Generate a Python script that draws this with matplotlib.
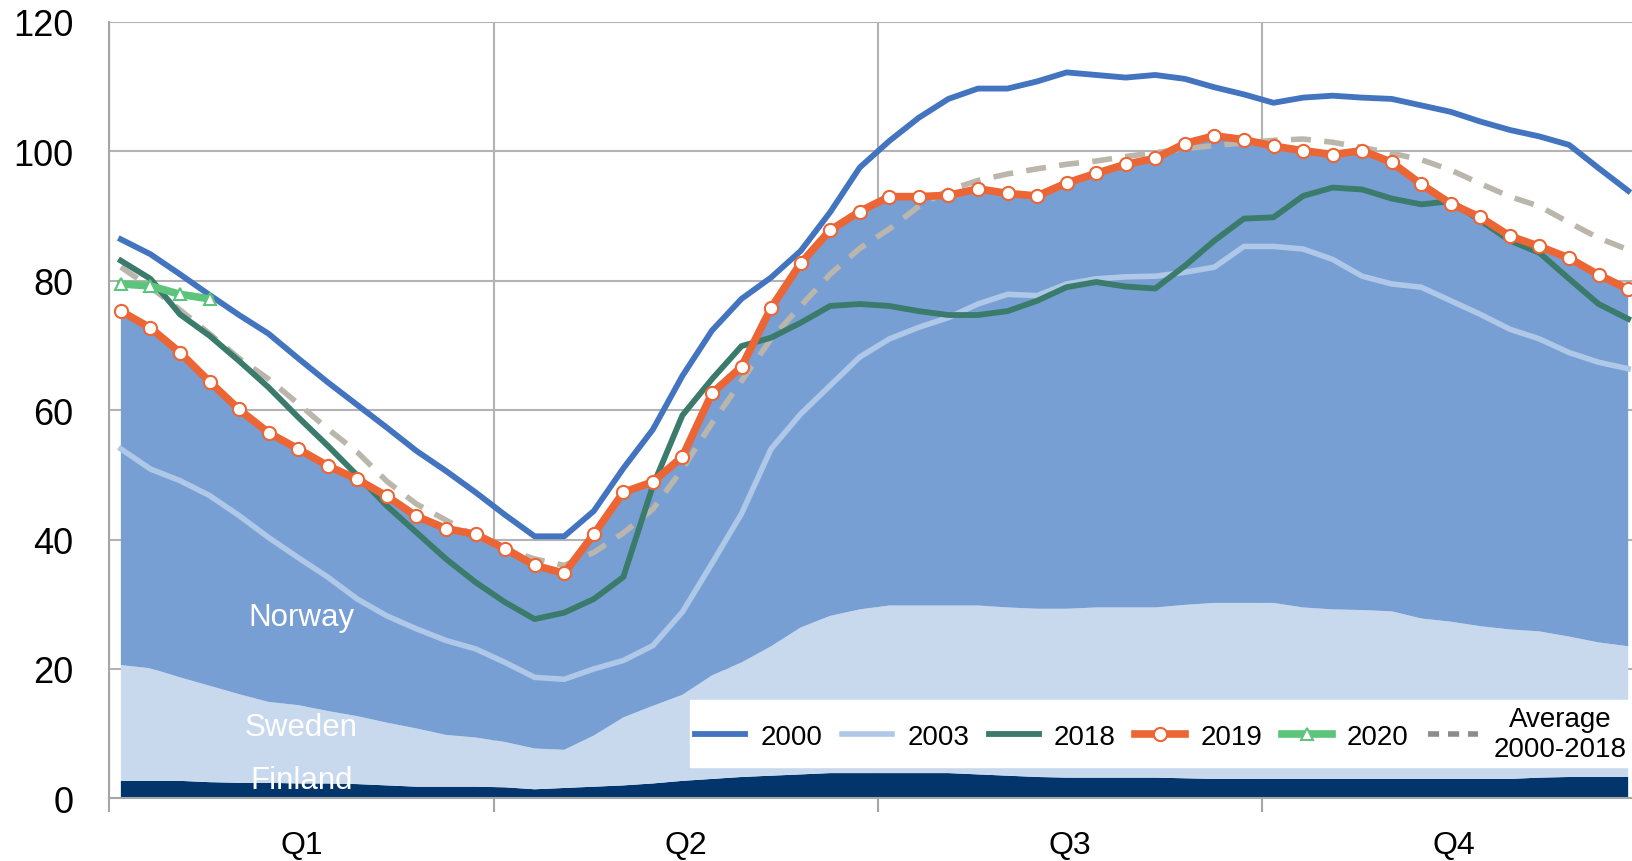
import numpy as np
import matplotlib
matplotlib.use("Agg")
import matplotlib.pyplot as plt
from matplotlib.lines import Line2D

plt.rcParams['font.family'] = ['Liberation Sans', 'DejaVu Sans']

weeks = np.arange(52)
quarters = ['Q1', 'Q2', 'Q3', 'Q4']

# stacked reservoir content 2019 by country
finland = [2.7, 2.7, 2.7, 2.5, 2.4, 2.4, 2.3, 2.3, 2.2, 2.0, 1.8, 1.8, 1.8, 1.7, 1.4, 1.6,
           1.8, 2.0, 2.3, 2.7, 3.0, 3.3, 3.5, 3.7, 3.9, 3.9, 3.9, 3.9, 3.9, 3.7, 3.5, 3.3,
           3.2, 3.2, 3.2, 3.2, 3.1, 3.0, 3.0, 3.0, 3.0, 3.0, 3.0, 3.0, 3.0, 3.0, 3.0, 3.0,
           3.2, 3.3, 3.3, 3.3]
sweden = [17.9, 17.4, 16.0, 14.9, 13.7, 12.5, 12.1, 11.2, 10.5, 9.7, 9.0, 8.0, 7.6, 7.0, 6.3, 5.9,
          7.9, 10.5, 12.0, 13.3, 16.0, 17.7, 20.0, 22.7, 24.3, 25.3, 25.9, 25.9, 25.9, 26.1, 26.0, 26.0,
          26.1, 26.3, 26.3, 26.3, 26.8, 27.2, 27.2, 27.2, 26.5, 26.2, 26.1, 25.9, 24.8, 24.3, 23.6, 23.1,
          22.6, 21.7, 20.8, 20.2]
norway = [54.7, 52.6, 50.2, 47.0, 44.0, 41.6, 39.6, 37.9, 36.6, 35.0, 32.8, 31.9, 31.4, 29.9, 28.3, 27.3,
          31.1, 34.8, 34.6, 36.8, 43.6, 45.7, 52.3, 56.3, 59.6, 61.5, 63.2, 63.2, 63.4, 64.4, 64.0, 63.8,
          65.8, 67.1, 68.5, 69.4, 71.3, 72.2, 71.6, 70.6, 70.6, 70.3, 71.0, 69.4, 67.1, 64.6, 63.2, 60.8,
          59.5, 58.5, 56.8, 55.2]

y2000 = [86.4, 84.1, 81.0, 77.8, 74.7, 71.8, 68.0, 64.3, 60.8, 57.3, 53.7, 50.6, 47.3, 43.8, 40.5, 40.5,
         44.4, 51.0, 57.0, 65.3, 72.3, 77.2, 80.5, 84.6, 90.6, 97.5, 101.6, 105.2, 108.1, 109.7, 109.7, 110.8,
         112.2, 111.8, 111.4, 111.8, 111.2, 109.9, 108.8, 107.5, 108.3, 108.6, 108.3, 108.1, 107.1, 106.1, 104.6, 103.3,
         102.3, 101.0, 97.4, 93.9]
y2003 = [54.0, 50.9, 49.1, 46.8, 43.7, 40.3, 37.2, 34.2, 30.8, 28.2, 26.2, 24.4, 23.1, 21.0, 18.7, 18.4,
         20.0, 21.3, 23.6, 28.8, 36.3, 44.0, 54.0, 59.4, 63.8, 68.2, 71.0, 72.8, 74.3, 76.4, 77.9, 77.7,
         79.5, 80.3, 80.6, 80.7, 81.3, 82.1, 85.3, 85.3, 84.9, 83.3, 80.7, 79.5, 79.0, 76.9, 74.8, 72.5,
         71.0, 68.9, 67.4, 66.4]
y2018 = [83.1, 80.3, 74.8, 71.5, 67.6, 63.5, 58.9, 54.5, 49.9, 45.2, 41.1, 37.0, 33.4, 30.3, 27.7, 28.7,
         30.8, 34.2, 48.3, 59.2, 64.8, 69.9, 71.2, 73.5, 76.1, 76.4, 76.1, 75.3, 74.7, 74.7, 75.3, 76.9,
         79.0, 79.8, 79.1, 78.8, 82.3, 86.2, 89.6, 89.8, 93.1, 94.4, 94.1, 92.7, 91.8, 92.3, 89.3, 86.2,
         84.3, 80.3, 76.4, 74.1]
y2019 = [75.3, 72.7, 68.9, 64.4, 60.1, 56.5, 54.0, 51.4, 49.3, 46.7, 43.6, 41.7, 40.8, 38.6, 36.0, 34.8,
         40.8, 47.3, 48.9, 52.8, 62.6, 66.7, 75.8, 82.7, 87.8, 90.7, 93.0, 93.0, 93.2, 94.2, 93.5, 93.1,
         95.1, 96.6, 98.0, 98.9, 101.2, 102.4, 101.8, 100.8, 100.1, 99.5, 100.1, 98.3, 94.9, 91.9, 89.8, 86.9,
         85.3, 83.5, 80.9, 78.7]
y2020 = [79.5, 79.2, 77.9, 77.2]
avg = [82.1, 79.0, 75.5, 71.8, 68.0, 64.8, 61.0, 57.1, 53.5, 49.0, 45.5, 43.0, 40.5, 38.5, 37.0, 36.0,
       38.0, 41.0, 44.7, 50.9, 58.0, 64.5, 71.0, 76.1, 81.0, 85.0, 88.0, 91.5, 94.0, 95.5, 96.5, 97.3,
       98.0, 98.5, 99.2, 99.8, 100.4, 100.9, 101.3, 101.7, 101.9, 101.4, 100.6, 99.7, 98.7, 97.1, 95.0, 93.0,
       91.5, 89.0, 86.6, 84.8]

fig = plt.figure(figsize=(16.32, 8.62), dpi=100)
ax = fig.add_axes([0.067, 0.0727, 0.933, 0.9007])

ax.stackplot(weeks, finland, sweden, norway,
             colors=['#02356B', '#C8D9EE', '#789FD3'], zorder=1)

l2003, = ax.plot(weeks, y2003, color='#AFC8E8', lw=4, zorder=2)
ax.plot(weeks, avg, color='#BAB6AC', lw=4, dashes=(3.6, 2.4), zorder=3)
l2018, = ax.plot(weeks, y2018, color='#3A7B6B', lw=4.2, zorder=4)
l2000, = ax.plot(weeks, y2000, color='#4374C0', lw=4.2, zorder=5)
l2019, = ax.plot(weeks, y2019, color='#EC6535', lw=5.5, marker='o', ms=9.5,
                 mfc='white', mec='#EC6535', mew=1.5, zorder=6)
l2020, = ax.plot(weeks[:4], y2020, color='#5CC47B', lw=5.5, marker='^', ms=9,
                 mfc='white', mec='#5CC47B', mew=1.5, zorder=7)

ax.text(6.1, 28.1, 'Norway', color='white', ha='center', va='center', fontsize=22.5, zorder=8)
ax.text(6.1, 11.1, 'Sweden', color='white', ha='center', va='center', fontsize=22.5, zorder=8)
ax.text(6.1, 2.9, 'Finland', color='white', ha='center', va='center', fontsize=22.5, zorder=8)

ax.set_xlim(-0.39, 51.13)
ax.set_ylim(0, 120)
ax.set_yticks(range(0, 121, 20))
ax.set_xticks([-0.39 + 13 * k for k in range(4)])
ax.set_xticklabels([])
ax.set_xticks([6.11 + 13 * k for k in range(4)], minor=True)
ax.set_xticklabels(quarters, minor=True)
ax.tick_params(axis='x', which='major', length=10, width=1.5, color='#A6A6A6', direction='out')
ax.tick_params(axis='x', which='minor', length=0, pad=23, labelsize=23)
ax.tick_params(axis='y', length=0, pad=26, labelsize=26)

ax.set_axisbelow(True)
ax.grid(True, which='major', color='#B3B3B3', lw=1.5)
for s in ['top', 'right']:
    ax.spines[s].set_visible(False)
for s in ['left', 'bottom']:
    ax.spines[s].set_color('#A6A6A6')
    ax.spines[s].set_linewidth(1.5)

avg_handle = Line2D([], [], color='#8C8C8C', lw=4, dashes=(2, 1.6))
leg = ax.legend([l2000, l2003, l2018, l2019, l2020, avg_handle],
                ['2000', '2003', '2018', '2019', '2020', 'Average\n2000-2018'],
                ncol=6, loc='lower right', bbox_to_anchor=(1.0, 0.04),
                frameon=True, fancybox=False, edgecolor='white', facecolor='white',
                framealpha=1, fontsize=20, handlelength=1.8, handletextpad=0.55,
                columnspacing=0.7, borderpad=0.2, borderaxespad=0, labelspacing=0.1)
leg.set_zorder(10)
for t in leg.get_texts():
    t.set_multialignment('center')

fig.savefig('out.png', dpi=100)
